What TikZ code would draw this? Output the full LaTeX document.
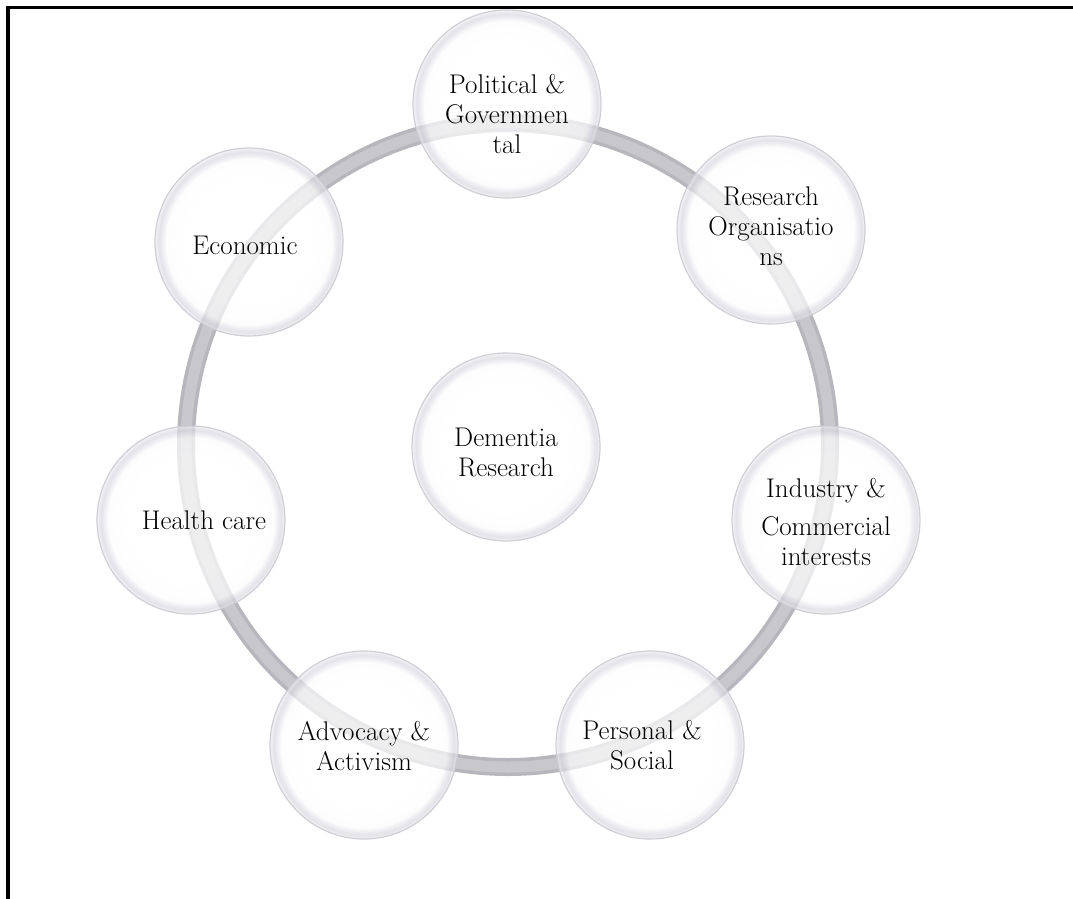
\documentclass[tikz,border=0pt]{standalone}
\usetikzlibrary{shadings}
\definecolor{ringc}{RGB}{182,182,188}
\definecolor{ringl}{RGB}{200,200,204}
\definecolor{rimc}{RGB}{214,214,222}
\definecolor{edgec}{RGB}{202,202,210}
\pgfdeclareradialshading{bubble}{\pgfpoint{0bp}{0bp}}{%
  color(0bp)=(white); color(17bp)=(white); color(22bp)=(white!92!rimc);
  color(24bp)=(rimc); color(25bp)=(white!60!rimc); color(50bp)=(white)}
\tikzset{
  bubble/.style={circle, inner sep=0pt, minimum size=188pt, shading=bubble,
    fill opacity=0.7, draw=edgec, draw opacity=0.9, line width=1.2pt},
  txt/.style={align=center, inner sep=0pt, font=\fontsize{27}{30}\selectfont},
  frameline/.style={line width=3.2pt, black},
  ringline/.style={line width=18pt, ringc},
  ringinner/.style={line width=11pt, ringl}
}
\begin{document}
\begin{tikzpicture}[x=1pt, y=-1pt]
\useasboundingbox (0,0) rectangle (1073,899);
\coordinate (fa) at (8,899);
\coordinate (fb) at (8,7.5);
\coordinate (fc) at (1073,7.5);
\draw[frameline] (fa) -- (fb) -- (fc);
\coordinate (rc) at (508,445);
\draw[ringline] (rc) circle[radius=322];
\draw[ringinner] (rc) circle[radius=322];
\node[bubble, label={[txt, yshift=-5pt]center:{Dementia\\Research}}] (dem) at (506,447) {};
\node[bubble, label={[txt, yshift=-10pt]center:{Political \&\\Governmen\\tal}}] (pol) at (507,104) {};
\node[bubble, label={[txt, yshift=4pt]center:{Research\\Organisatio\\ns}}] (res) at (771,230) {};
\node[bubble, label={[txt, yshift=-2pt]center:{Industry \&\\[8pt]Commercial\\interests}}] (ind) at (826,520) {};
\node[bubble, label={[txt, yshift=0pt, xshift=-8pt]center:{Personal \&\\Social}}] (per) at (650,745) {};
\node[bubble, label={[txt, yshift=-1pt]center:{Advocacy \&\\Activism}}] (adv) at (364,745) {};
\node[bubble, label={[txt, xshift=13pt]center:{Health care}}] (hea) at (191,520) {};
\node[bubble, label={[txt, yshift=-3pt, xshift=-4pt]center:{Economic}}] (eco) at (249,242) {};
\end{tikzpicture}
\end{document}
